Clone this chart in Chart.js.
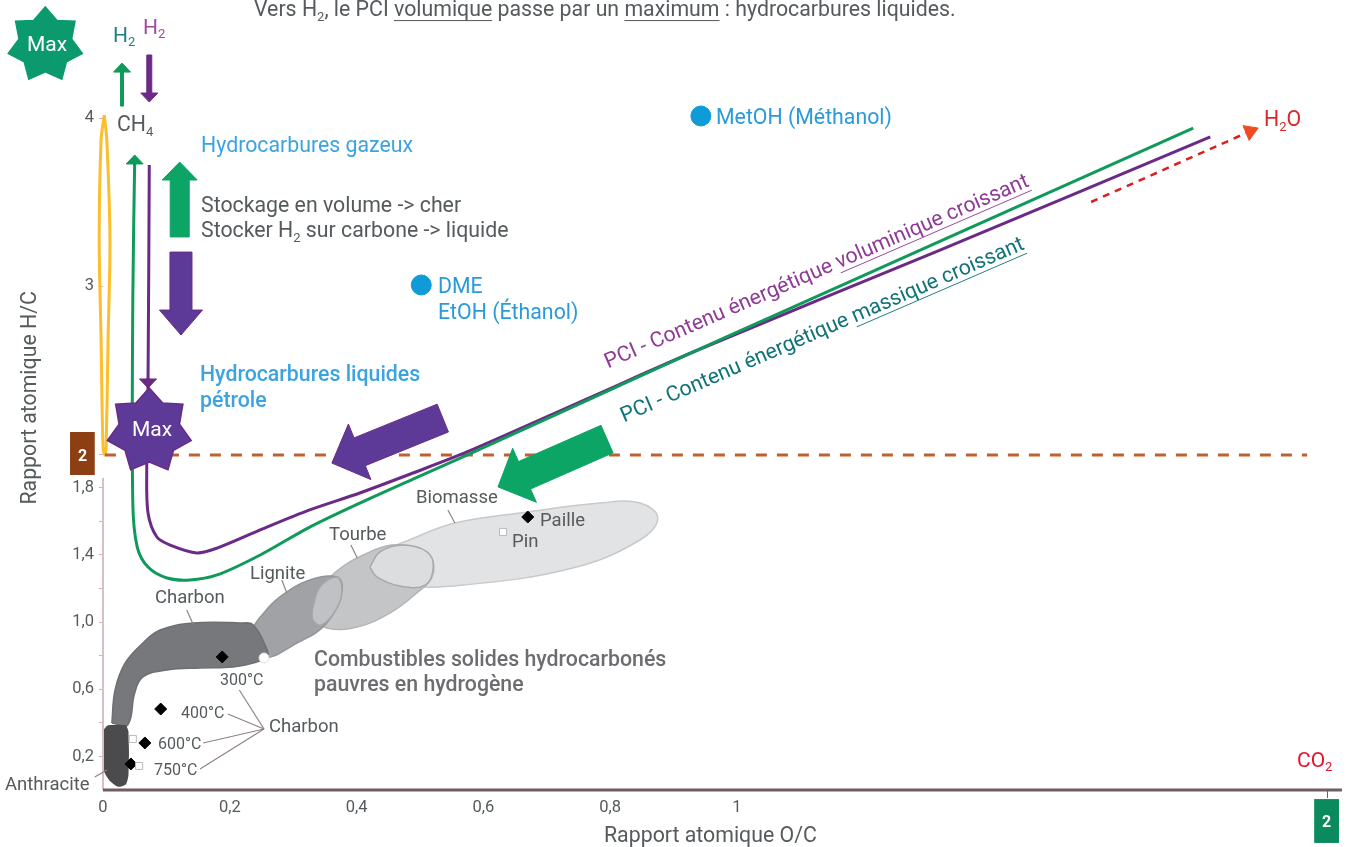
<!DOCTYPE html>
<html lang="fr">
<head>
<meta charset="utf-8">
<title>Rapport atomique H/C - O/C</title>
<script src="https://cdn.jsdelivr.net/npm/chart.js@4"></script>
<style>
  html, body { margin: 0; background: #fff; }
  canvas { display: block; }
</style>
</head>
<body>
<canvas id="diagram" width="1349" height="847"></canvas>
<script>
// axes
const xTickValues = [0, 0.2, 0.4, 0.6, 0.8, 1, 2];
const xTickLabels = ["0", "0,2", "0,4", "0,6", "0,8", "1", ""];
const yTickValues = [0.2, 0.4, 0.6, 0.8, 1, 1.2, 1.4, 1.6, 1.8, 2, 3, 4];
const yTickLabels = ["0,2", "", "0,6", "", "1,0", "", "1,4", "", "1,8", "", "3", "4"];

// PCI curves
const massiqueX = [0.050, 0.047, 0.047, 0.054, 0.071, 0.101, 0.137, 0.180, 0.248, 0.326, 0.405, 0.489, 0.574, 0.768, 0.973, 1.773];
const massiqueY = [3.750, 2.917, 1.708, 1.446, 1.327, 1.262, 1.250, 1.280, 1.399, 1.565, 1.708, 1.851, 1.994, 2.327, 2.679, 3.940];
const volumiqueX = [0.073, 0.071, 0.069, 0.071, 0.085, 0.106, 0.148, 0.180, 0.248, 0.326, 0.405, 0.489, 0.574, 0.768, 0.942, 1.344, 1.802];
const volumiqueY = [3.720, 2.411, 1.905, 1.649, 1.506, 1.458, 1.411, 1.440, 1.548, 1.667, 1.768, 1.887, 2.012, 2.336, 2.625, 3.214, 3.887];
const loopX = [0.002, -0.003, -0.006, -0.003, 0, 0.003, 0.005, 0.008, 0.011, 0.006, 0.002];
const loopY = [4.018, 3.869, 3.274, 2.679, 2.042, 1.994, 2.042, 2.679, 3.274, 3.869, 4.018];
const h2LineX = [0.003, 1.966];
const h2LineY = [1.994, 1.994];
const waterX = [1.600, 1.863];
const waterY = [3.500, 3.911];

// fuel regions
const biomasseX = [0.421, 0.440, 0.479, 0.555, 0.658, 0.784, 0.847, 0.875, 0.847, 0.741, 0.568, 0.468, 0.429, 0.421];
const biomasseY = [1.327, 1.417, 1.482, 1.589, 1.649, 1.708, 1.708, 1.619, 1.488, 1.321, 1.220, 1.214, 1.262, 1.327];
const tourbeX = [0.326, 0.358, 0.421, 0.473, 0.516, 0.519, 0.495, 0.453, 0.401, 0.353, 0.330, 0.326];
const tourbeY = [1.089, 1.268, 1.417, 1.458, 1.387, 1.268, 1.173, 1.054, 0.970, 0.964, 1.030, 1.089];
const ligniteX = [0.237, 0.252, 0.306, 0.353, 0.377, 0.369, 0.326, 0.279, 0.248, 0.237];
const ligniteY = [0.970, 0.792, 0.875, 0.994, 1.190, 1.268, 1.250, 1.149, 1.030, 0.970];
const charbonX = [0.014, 0.019, 0.035, 0.063, 0.090, 0.142, 0.216, 0.237, 0.259, 0.259, 0.237, 0.205, 0.153, 0.101, 0.063, 0.050, 0.039, 0.014];
const charbonY = [0.399, 0.595, 0.756, 0.875, 0.952, 0.994, 0.994, 0.982, 0.833, 0.792, 0.756, 0.732, 0.726, 0.714, 0.673, 0.577, 0.387, 0.399];
const anthraciteX = [0.002, 0.008, 0.035, 0.039, 0.039, 0.035, 0.024, 0.011, 0.002, 0.002];
const anthraciteY = [0.357, 0.381, 0.381, 0.345, 0.089, 0.036, 0.024, 0.060, 0.119, 0.357];
const overlapLigniteX = [0.330, 0.342, 0.369, 0.377, 0.369, 0.345, 0.331, 0.330];
const overlapLigniteY = [1.071, 1.208, 1.268, 1.190, 1.083, 0.982, 1.012, 1.071];
const overlapBiomasseX = [0.421, 0.437, 0.473, 0.511, 0.521, 0.508, 0.468, 0.432, 0.421];
const overlapBiomasseY = [1.327, 1.417, 1.458, 1.417, 1.327, 1.220, 1.214, 1.268, 1.327];

// samples
const blackX = [0.670, 0.188, 0.091, 0.066, 0.044];
const blackY = [1.625, 0.792, 0.482, 0.280, 0.155];
const whiteRoundX = [0.254];
const whiteRoundY = [0.786];
const whiteSquareX = [0.631, 0.047, 0.057];
const whiteSquareY = [1.536, 0.304, 0.143];
const alcoholX = [0.943, 0.502];
const alcoholY = [4.012, 3.006];

// leader lines [x0, y0, x1, y1]
const leaders = [
  [0.132, 1.071, 0.142, 0.988],
  [0.282, 1.250, 0.290, 1.173],
  [0.391, 1.458, 0.401, 1.381],
  [0.544, 1.667, 0.555, 1.589],
  [-0.013, 0.077, 0.006, 0.119],
  [0.254, 0.363, 0.215, 0.595],
  [0.254, 0.363, 0.197, 0.452],
  [0.254, 0.363, 0.158, 0.280],
  [0.254, 0.363, 0.153, 0.125]
];

const green = "#0ca565";
const greenLine = "#0f9a5c";
const purple = "#5d3a98";
const purpleLine = "#6a2a86";
const greyText = "#555a5c";
const blue = "#3ba3e0";

// arrows, tail and tip in axis values
const arrows = [
  { tail: [0.121, 3.292], tip: [0.121, 3.738], shaft: 19, head: 35, len: 18, fill: green, line: green },
  { tail: [0.123, 3.202], tip: [0.123, 2.708], shaft: 22, head: 43, len: 25, fill: purple, line: purpleLine },
  { tail: [0.536, 2.214], tip: [0.361, 1.946], shaft: 30, head: 60, len: 30, fill: purple, line: purpleLine },
  { tail: [0.795, 2.089], tip: [0.623, 1.804], shaft: 30, head: 59, len: 29, fill: green, line: green },
  { tail: [0.030, 4.071], tip: [0.030, 4.327], shaft: 3, head: 17, len: 9, fill: greenLine, line: greenLine },
  { tail: [0.073, 4.375], tip: [0.073, 4.095], shaft: 5, head: 17, len: 9, fill: purpleLine, line: purpleLine },
  { tail: [0.050, 3.720], tip: [0.050, 3.780], shaft: 2, head: 17, len: 9, fill: greenLine, line: greenLine },
  { tail: [0.071, 2.452], tip: [0.071, 2.393], shaft: 2, head: 17, len: 9, fill: purpleLine, line: purpleLine },
  { tail: [1.863, 3.911], tip: [1.883, 3.940], shaft: 2, head: 16, len: 13, fill: "#ee4b23", line: "#ee4b23" }
];

// 7 pointed "Max" badges, centre in axis values
const badges = [
  { at: [-0.091, 4.435], outer: 38, inner: 27, fill: "#0b9a6d", line: "#0b9a6d" },
  { at: [0.073, 2.137], outer: 43, inner: 31, fill: purple, line: purpleLine }
];

// tick boxes, corners in axis values
const tickBoxes = [
  { from: [-0.052, 2.131], to: [-0.013, 1.875], fill: "#8b3f12" },
  { from: [1.978, -0.054], to: [2.020, -0.315], fill: "#0b8a5e" }
];

// text, placed in page pixels. _{x} is a subscript, [x] is underlined
const notes = [
  { text: "Vers H_{2}, le PCI [volumique] passe par un [maximum] : hydrocarbures liquides.", x: 254, y: 8, size: 21.3, color: greyText },
  { text: "Max", x: 27, y: 43, size: 21, color: "#fff" },
  { text: "Max", x: 132, y: 428, size: 21, color: "#fff" },
  { text: "H_{2}", x: 113, y: 34, size: 21, color: "#1f7f86" },
  { text: "H_{2}", x: 143, y: 26, size: 21, color: "#a24a9e" },
  { text: "CH_{4}", x: 117, y: 123, size: 21.3, color: greyText },
  { text: "Hydrocarbures gazeux", x: 201, y: 144, size: 21.3, color: blue },
  { text: "Stockage en volume -> cher", x: 201, y: 204, size: 21.3, color: greyText },
  { text: "Stocker H_{2} sur carbone -> liquide", x: 201, y: 229, size: 21.3, color: greyText },
  { text: "MetOH (Méthanol)", x: 716, y: 116, size: 21.3, color: "#2a9bd8" },
  { text: "DME", x: 438, y: 285, size: 21.3, color: "#2a9bd8" },
  { text: "EtOH (Éthanol)", x: 438, y: 311, size: 21.3, color: "#2a9bd8" },
  { text: "Hydrocarbures liquides", x: 200, y: 373, size: 21.3, weight: 500, color: blue },
  { text: "pétrole", x: 200, y: 399, size: 21.3, weight: 500, color: blue },
  { text: "PCI - Contenu énergétique [voluminique croissant]", x: 606, y: 361, size: 21.3, color: "#8e3a96", angle: -23.4 },
  { text: "PCI - Contenu énergétique [massique croissant]", x: 622, y: 415, size: 21.3, color: "#0f7378", angle: -23.4 },
  { text: "Biomasse", x: 416, y: 496, size: 18.5, color: greyText },
  { text: "Paille", x: 540, y: 519, size: 18.5, color: greyText },
  { text: "Pin", x: 512, y: 540, size: 18.5, color: greyText },
  { text: "Tourbe", x: 329, y: 533, size: 18.5, color: greyText },
  { text: "Lignite", x: 250, y: 572, size: 18.5, color: greyText },
  { text: "Charbon", x: 155, y: 596, size: 18.5, color: greyText },
  { text: "300°C", x: 220, y: 679, size: 16, color: greyText },
  { text: "400°C", x: 181, y: 712, size: 16, color: greyText },
  { text: "600°C", x: 158, y: 743, size: 16, color: greyText },
  { text: "750°C", x: 154, y: 769, size: 16, color: greyText },
  { text: "Charbon", x: 269, y: 725, size: 18.5, color: greyText },
  { text: "Anthracite", x: 5, y: 783, size: 18.5, color: greyText },
  { text: "Combustibles solides hydrocarbonés", x: 314, y: 658, size: 21.3, weight: 500, color: "#6b6d70" },
  { text: "pauvres en hydrogène", x: 314, y: 683, size: 21.3, weight: 500, color: "#6b6d70" },
  { text: "H_{2}O", x: 1264, y: 118, size: 21.3, color: "#d8282b" },
  { text: "CO_{2}", x: 1297, y: 759, size: 21, color: "#e8112d" },
  { text: "2", x: 78, y: 455, size: 16, weight: 700, color: "#fff" },
  { text: "2", x: 1322, y: 821, size: 16, weight: 700, color: "#fff" },
  { text: "Rapport atomique O/C", x: 604, y: 834, size: 21.3, color: greyText },
  { text: "Rapport atomique H/C", x: 31, y: 502, size: 21.3, color: greyText, angle: -90 }
];

// the O/C axis is a bit tighter after 1, so it gets two linear parts
const xZeroShare = 103 / 1349;
const xOneShare = 737 / 1349;

class TwoPartScale extends Chart.LinearScale {
  getPixelForValue(value) {
    const w = this.chart.width;
    const zero = w * xZeroShare;
    const one = w * xOneShare;
    if (value <= 1) return zero + value * (one - zero);
    return one + (value - 1) / (this.max - 1) * (w - one);
  }
}
TwoPartScale.id = "twoPart";
TwoPartScale.defaults = Chart.LinearScale.defaults;

// layout takes room for the point overflow, the axes here span the whole canvas
class FullHeightScale extends Chart.LinearScale {
  getPixelForValue(value) {
    const h = this.chart.height;
    return h - (value - this.min) / (this.max - this.min) * h;
  }
}
FullHeightScale.id = "fullHeight";
FullHeightScale.defaults = Chart.LinearScale.defaults;
Chart.register(TwoPartScale, FullHeightScale);

function points(xs, ys) {
  return xs.map((x, i) => ({ x: x, y: ys[i] }));
}

function lineSet(xs, ys, color, width, extra) {
  return Object.assign({
    data: points(xs, ys), showLine: true, borderColor: color, borderWidth: width,
    pointRadius: 0, fill: false, tension: 0.3, clip: false
  }, extra);
}

function regionSet(xs, ys, color, edge, extra) {
  return lineSet(xs, ys, edge, 1.5, Object.assign({ backgroundColor: color, fill: "shape", tension: 0.4 }, extra));
}

function markSet(xs, ys, style, radius, color, edge) {
  return {
    data: points(xs, ys), showLine: false, pointStyle: style, pointRadius: radius,
    pointBackgroundColor: color, pointBorderColor: edge, pointBorderWidth: 1, clip: false
  };
}

function toPixel(chart, value) {
  return [chart.scales.x.getPixelForValue(value[0]), chart.scales.y.getPixelForValue(value[1])];
}

function drawArrow(ctx, chart, a) {
  const [x0, y0] = toPixel(chart, a.tail);
  const [x1, y1] = toPixel(chart, a.tip);
  const d = Math.hypot(x1 - x0, y1 - y0);
  const ux = (x1 - x0) / d, uy = (y1 - y0) / d;
  const nx = -uy, ny = ux;
  const bx = x1 - ux * a.len, by = y1 - uy * a.len;
  const outline = [
    [x0 + nx * a.shaft / 2, y0 + ny * a.shaft / 2],
    [bx + nx * a.shaft / 2, by + ny * a.shaft / 2],
    [bx + nx * a.head / 2, by + ny * a.head / 2],
    [x1, y1],
    [bx - nx * a.head / 2, by - ny * a.head / 2],
    [bx - nx * a.shaft / 2, by - ny * a.shaft / 2],
    [x0 - nx * a.shaft / 2, y0 - ny * a.shaft / 2]
  ];
  ctx.beginPath();
  outline.forEach((p, i) => i ? ctx.lineTo(p[0], p[1]) : ctx.moveTo(p[0], p[1]));
  ctx.closePath();
  ctx.fillStyle = a.fill;
  ctx.strokeStyle = a.line;
  ctx.lineWidth = 1;
  ctx.fill();
  ctx.stroke();
}

function drawBadge(ctx, chart, b) {
  const [cx, cy] = toPixel(chart, b.at);
  ctx.beginPath();
  for (let i = 0; i < 14; i++) {
    const r = i % 2 ? b.inner : b.outer;
    const t = -Math.PI / 2 + i * Math.PI / 7;
    ctx.lineTo(cx + r * Math.cos(t), cy + r * Math.sin(t));
  }
  ctx.closePath();
  ctx.fillStyle = b.fill;
  ctx.strokeStyle = b.line;
  ctx.lineWidth = 1.5;
  ctx.fill();
  ctx.stroke();
}

function drawBox(ctx, chart, b) {
  const [x0, y0] = toPixel(chart, b.from);
  const [x1, y1] = toPixel(chart, b.to);
  ctx.fillStyle = b.fill;
  ctx.fillRect(x0, y0, x1 - x0, y1 - y0);
}

function drawNote(ctx, n) {
  const weight = n.weight || 400;
  const base = weight + " " + n.size + "px Roboto";
  const small = weight + " " + Math.round(n.size * 0.62) + "px Roboto";
  let x = 0;
  ctx.save();
  ctx.translate(n.x, n.y + n.size * 0.12);
  ctx.rotate((n.angle || 0) * Math.PI / 180);
  ctx.fillStyle = n.color;
  ctx.strokeStyle = n.color;
  ctx.textBaseline = "middle";
  ctx.textAlign = "left";
  n.text.split(/(_\{.*?\}|\[.*?\])/).forEach(part => {
    if (!part) return;
    const isSub = part[0] === "_";
    const isLine = part[0] === "[";
    const word = isSub ? part.slice(2, -1) : isLine ? part.slice(1, -1) : part;
    ctx.font = isSub ? small : base;
    ctx.fillText(word, x, isSub ? n.size * 0.32 : 0);
    const w = ctx.measureText(word).width;
    if (isLine) {
      ctx.lineWidth = 1;
      ctx.beginPath();
      ctx.moveTo(x, n.size * 0.47);
      ctx.lineTo(x + w, n.size * 0.47);
      ctx.stroke();
    }
    x += w;
  });
  ctx.restore();
}

const annotations = {
  id: "annotations",
  afterDatasetsDraw(chart) {
    const ctx = chart.ctx;
    ctx.save();
    tickBoxes.forEach(b => drawBox(ctx, chart, b));
    arrows.forEach(a => drawArrow(ctx, chart, a));
    badges.forEach(b => drawBadge(ctx, chart, b));
    ctx.restore();
  },
  afterDraw(chart) {
    notes.forEach(n => drawNote(chart.ctx, n));
  }
};

// listed bottom to top
const layers = [
  regionSet(biomasseX, biomasseY, "#e2e3e5", "#c8c9cb"),
  regionSet(tourbeX, tourbeY, "#c4c5c7", "#b4b5b7"),
  regionSet(ligniteX, ligniteY, "#a0a2a5", "#939598"),
  regionSet(overlapLigniteX, overlapLigniteY, "#c0c1c4", "#a4a5a8"),
  regionSet(overlapBiomasseX, overlapBiomasseY, "#dcdddf", "#a8a9ab"),
  regionSet(charbonX, charbonY, "#77787c", "#6e6f73"),
  regionSet(anthraciteX, anthraciteY, "#4b4b4d", "#4b4b4d", { tension: 0.2 }),
  lineSet([0, 0], [0, 1.857], "#d9bfc3", 2, { tension: 0 }),
  lineSet([0, 2.025], [0, 0], "#6f5d60", 3, { tension: 0 }),
  lineSet(loopX, loopY, "#fdbe2c", 3),
  lineSet(h2LineX, h2LineY, "#c0602f", 3, { borderDash: [11, 10], tension: 0 }),
  lineSet(waterX, waterY, "#d8201f", 2.5, { borderDash: [7, 6], tension: 0 })
];
leaders.forEach(s => {
  layers.push(lineSet([s[0], s[2]], [s[1], s[3]], "#8f8284", 1.2, { tension: 0 }));
});
layers.push(
  lineSet(volumiqueX, volumiqueY, purpleLine, 3),
  lineSet(massiqueX, massiqueY, greenLine, 3),
  markSet(blackX, blackY, "rectRot", 6, "#000", "#000"),
  markSet(whiteRoundX, whiteRoundY, "circle", 5, "#fff", "#ddd"),
  markSet(whiteSquareX, whiteSquareY, "rect", 5, "#fff", "#bbb"),
  markSet(alcoholX, alcoholY, "circle", 10, "#0e9bd8", "#0e9bd8")
);

new Chart(document.getElementById("diagram"), {
  type: "scatter",
  data: { datasets: layers.reverse() },
  plugins: [annotations],
  options: {
    responsive: false,
    animation: false,
    events: [],
    layout: { padding: 0, autoPadding: false },
    plugins: { legend: { display: false }, tooltip: { enabled: false } },
    scales: {
      x: {
        type: "twoPart",
        bounds: "data",
        position: { y: 0 },
        min: -103 / 634,
        max: 2.037,
        afterBuildTicks: scale => { scale.ticks = xTickValues.map(v => ({ value: v })); },
        border: { display: false },
        grid: {
          drawOnChartArea: false,
          tickLength: 8,
          tickColor: c => (c.tick && c.tick.value === 2 ? "#6f5d60" : "rgba(0,0,0,0)")
        },
        ticks: {
          z: 1, autoSkip: false, maxRotation: 0, padding: 0, color: greyText,
          font: { family: "Roboto", size: 16.5 },
          callback: (v, i) => xTickLabels[i]
        }
      },
      y: {
        type: "fullHeight",
        bounds: "data",
        // labels sit right on a positioned axis, so the axis stands 9px left of x=0
        position: { x: -9 / 634 },
        min: -57 / 168,
        max: 790 / 168,
        afterBuildTicks: scale => { scale.ticks = yTickValues.map(v => ({ value: v })); },
        border: { display: false },
        // negative length turns the marks rightwards, the dash keeps the last 4px before x=0
        grid: { drawOnChartArea: false, tickLength: -9, tickColor: "#c9b4b7", tickBorderDash: [0, 5, 4, 0] },
        ticks: {
          z: 1, autoSkip: false, padding: 4, color: greyText,
          font: { family: "Roboto", size: 16.5 },
          callback: (v, i) => yTickLabels[i]
        }
      }
    }
  }
});
</script>
</body>
</html>
